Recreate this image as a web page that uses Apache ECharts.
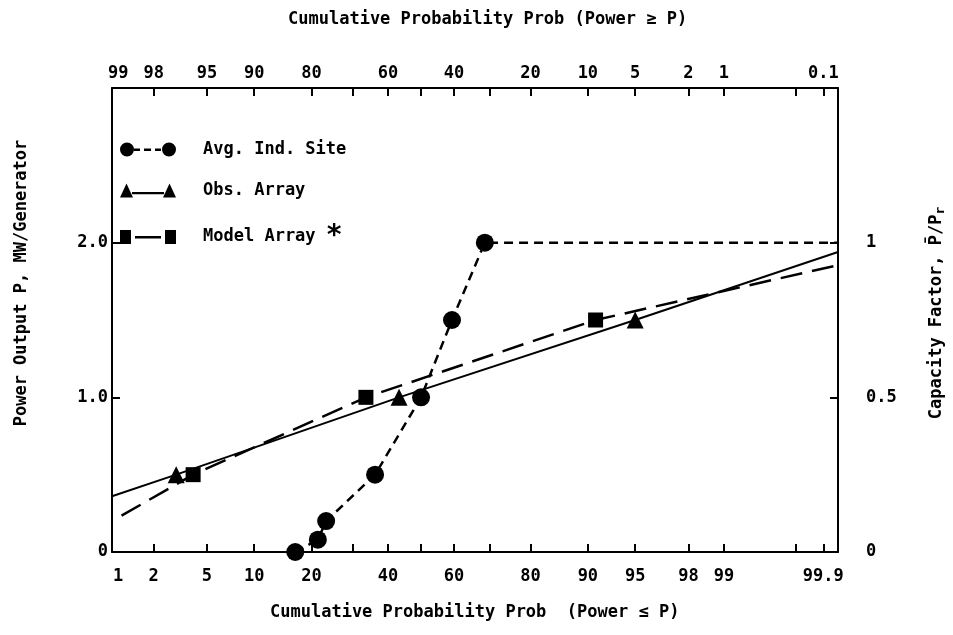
<!DOCTYPE html>
<html>
<head>
<meta charset="utf-8">
<script src="https://cdn.jsdelivr.net/npm/echarts@6/dist/echarts.min.js"></script>
<style>
  html, body { margin: 0; padding: 0; background: #fff; }
  #chart { width: 953px; height: 635px; }
</style>
</head>
<body>
<div id="chart"></div>
<script>
// probability-paper chart: x axis is a normal probability scale

// x range of the plot (percent, Prob(Power <= P))
const xMinProb = 0.88;
const xMaxProb = 99.932;

// tick labels / tick marks on the probability axis (percent)
const probLabels = [1, 2, 5, 10, 20, 40, 60, 80, 90, 95, 98, 99, 99.9];
const probTicks = [2, 5, 10, 20, 30, 40, 50, 60, 70, 80, 90, 95, 98, 99, 99.8, 99.9];

// power axis labels (MW) and capacity factor labels
const powerLabels = [0, 1, 2];
const capLabels = [0, 0.5, 1];

// Avg. Ind. Site
const siteProb = [16.7, 21.4, 23.3, 36.2, 50, 59.4, 68.8];
const siteMW = [0, 0.08, 0.2, 0.5, 1.0, 1.5, 2.0];
const siteEndProb = [99.932];
const siteEndMW = [2.0];

// Obs. Array (points + fitted line ends)
const obsProb = [3.0, 43.3, 95.0];
const obsMW = [0.5, 1.0, 1.5];
const obsLineProb = [0.88, 99.932];
const obsLineMW = [0.36, 1.94];

// Model Array (points + curve ends)
const modelProb = [4.0, 33.6, 91.0];
const modelMW = [0.5, 1.0, 1.5];
const modelLineProb = [1.07, 99.926];
const modelLineMW = [0.235, 1.85];

// inverse normal cdf (Acklam)
function probit(p) {
  const a = [-3.969683028665376e+01, 2.209460984245205e+02, -2.759285104469687e+02, 1.383577518672690e+02, -3.066479806614716e+01, 2.506628277459239e+00];
  const b = [-5.447609879822406e+01, 1.615858368580409e+02, -1.556989798598866e+02, 6.680131188771972e+01, -1.328068155288572e+01];
  const c = [-7.784894002430293e-03, -3.223964580411365e-01, -2.400758277161838e+00, -2.549732539343734e+00, 4.374664141464968e+00, 2.938163982698783e+00];
  const d = [7.784695709041462e-03, 3.224671290700398e-01, 2.445134137142996e+00, 3.754408661907416e+00];
  const plow = 0.02425;
  let q, r;
  if (p < plow) {
    q = Math.sqrt(-2 * Math.log(p));
    return (((((c[0]*q+c[1])*q+c[2])*q+c[3])*q+c[4])*q+c[5]) / ((((d[0]*q+d[1])*q+d[2])*q+d[3])*q+1);
  }
  if (p > 1 - plow) {
    q = Math.sqrt(-2 * Math.log(1 - p));
    return -(((((c[0]*q+c[1])*q+c[2])*q+c[3])*q+c[4])*q+c[5]) / ((((d[0]*q+d[1])*q+d[2])*q+d[3])*q+1);
  }
  q = p - 0.5;
  r = q * q;
  return (((((a[0]*r+a[1])*r+a[2])*r+a[3])*r+a[4])*r+a[5])*q / (((((b[0]*r+b[1])*r+b[2])*r+b[3])*r+b[4])*r+1);
}
const z = (pct) => probit(pct / 100);

function findProb(v) {
  const p = probLabels.find((x) => Math.abs(z(x) - v) < 1e-6);
  return p === undefined ? null : p;
}

function pts(probs, vals) {
  return probs.map((p, i) => [z(p), vals[i]]);
}
function hidden(probs, vals) {
  return pts(probs, vals).map((v) => ({ value: v, symbol: 'none' }));
}

const FONT = 'DejaVu Sans Mono';
const txt = { color: '#000', fontFamily: FONT, fontSize: 17, fontWeight: 'bold' };
const gFont = 'bold 17px "' + FONT + '"';

const myChart = echarts.init(document.getElementById('chart'));

const xCommon = {
  type: 'value',
  min: z(xMinProb),
  max: z(xMaxProb),
  splitLine: { show: false },
  axisLine: { show: true, onZero: false, lineStyle: { color: '#000', width: 2 } },
  axisTick: { show: true, inside: true, length: 8, customValues: probTicks.map(z), lineStyle: { color: '#000', width: 2 } },
};

const yCommon = {
  type: 'value',
  splitLine: { show: false },
  axisLine: { show: true, onZero: false, lineStyle: { color: '#000', width: 2 } },
};

const option = {
  backgroundColor: '#fff',
  animation: false,
  grid: { left: 112, right: 115, top: 88, bottom: 83, outerBoundsMode: 'none' },
  legend: {
    orient: 'vertical',
    left: 115,
    top: 136,
    itemWidth: 56,
    itemHeight: 15,
    itemGap: 24,
    selectedMode: false,
    data: [
      { name: 'Avg. Ind. Site', icon: 'path://M0,7 a7,7 0 1,0 14,0 a7,7 0 1,0 -14,0 Z M42,7 a7,7 0 1,0 14,0 a7,7 0 1,0 -14,0 Z M14,6 h6 v2.5 h-6 Z M24,6 h7 v2.5 h-7 Z M35,6 h6 v2.5 h-6 Z' },
      { name: 'Obs. Array', icon: 'path://M0,14 L6.5,0 L13,14 Z M43,14 L49.5,0 L56,14 Z M12,8.5 h32 v2.2 h-32 Z' },
      { name: 'Model Array', icon: 'path://M0,0 h11 v14 h-11 Z M45,0 h11 v14 h-11 Z M15,6 h26 v2.5 h-26 Z' },
    ],
    formatter: (name) => (name === 'Model Array' ? name + ' {s|*}' : name),
    textStyle: Object.assign({}, txt, {
      padding: [0, 0, 0, 22],
      rich: { s: { fontSize: 28, fontWeight: 'bold', color: '#000', fontFamily: FONT } },
    }),
  },
  xAxis: [
    Object.assign({}, xCommon, {
      position: 'bottom',
      axisLabel: Object.assign({}, txt, {
        margin: 16,
        customValues: probLabels.map(z),
        formatter: (v) => {
          const p = findProb(v);
          return p === null ? '' : String(p);
        },
      }),
    }),
    Object.assign({}, xCommon, {
      position: 'top',
      axisLabel: Object.assign({}, txt, {
        margin: 6,
        customValues: probLabels.map(z),
        formatter: (v) => {
          const p = findProb(v);
          return p === null ? '' : String(+(100 - p).toFixed(1));
        },
      }),
    }),
  ],
  yAxis: [
    Object.assign({}, yCommon, {
      position: 'left',
      min: 0,
      max: 3,
      interval: 1,
      axisTick: { show: true, inside: true, length: 8, customValues: powerLabels, lineStyle: { color: '#000', width: 2 } },
      axisLabel: Object.assign({}, txt, {
        margin: 4,
        customValues: powerLabels,
        formatter: (v) => (v === 0 ? '0' : v.toFixed(1)),
      }),
    }),
    Object.assign({}, yCommon, {
      position: 'right',
      min: 0,
      max: 1.5,
      interval: 0.5,
      axisTick: { show: true, inside: true, length: 8, customValues: capLabels, lineStyle: { color: '#000', width: 2 } },
      axisLabel: Object.assign({}, txt, {
        margin: 28,
        customValues: capLabels,
        formatter: (v) => String(v),
      }),
    }),
  ],
  series: [
    {
      name: 'Avg. Ind. Site',
      type: 'line',
      xAxisIndex: 0,
      yAxisIndex: 0,
      symbol: 'circle',
      symbolSize: 18,
      itemStyle: { color: '#000' },
      lineStyle: { color: '#000', width: 2.5, type: [9, 6] },
      data: pts(siteProb, siteMW).concat(hidden(siteEndProb, siteEndMW)),
    },
    {
      name: 'Obs. Array',
      type: 'line',
      xAxisIndex: 0,
      yAxisIndex: 0,
      symbol: 'triangle',
      symbolSize: 17,
      itemStyle: { color: '#000' },
      lineStyle: { color: '#000', width: 2 },
      data: hidden([obsLineProb[0]], [obsLineMW[0]])
        .concat(pts(obsProb, obsMW))
        .concat(hidden([obsLineProb[1]], [obsLineMW[1]])),
    },
    {
      name: 'Model Array',
      type: 'line',
      xAxisIndex: 0,
      yAxisIndex: 0,
      symbol: 'rect',
      symbolSize: 15,
      itemStyle: { color: '#000' },
      lineStyle: { color: '#000', width: 2.5, type: [22, 10] },
      data: hidden([modelLineProb[0]], [modelLineMW[0]])
        .concat(pts(modelProb, modelMW))
        .concat(hidden([modelLineProb[1]], [modelLineMW[1]])),
    },
  ],
  graphic: [
    {
      type: 'text',
      left: 288,
      top: 11,
      style: { text: 'Cumulative Probability Prob (Power ≥ P)', fill: '#000', font: gFont },
    },
    {
      type: 'text',
      left: 270,
      top: 604,
      style: { text: 'Cumulative Probability Prob  (Power ≤ P)', fill: '#000', font: gFont },
    },
    {
      type: 'text',
      x: 22,
      y: 283,
      rotation: Math.PI / 2,
      style: { text: 'Power Output P, MW/Generator', fill: '#000', font: gFont, align: 'center', verticalAlign: 'middle' },
    },
    {
      type: 'text',
      x: 937,
      y: 313,
      rotation: Math.PI / 2,
      style: {
        text: 'Capacity Factor, P\u0304/P{sub|r}',
        fill: '#000',
        font: gFont,
        align: 'center',
        verticalAlign: 'middle',
        rich: { sub: { fontFamily: FONT, fontSize: 13, fontWeight: 'bold', fill: '#000', verticalAlign: 'bottom', padding: [8, 0, 0, 0] } },
      },
    },
  ],
};

myChart.setOption(option);
</script>
</body>
</html>
